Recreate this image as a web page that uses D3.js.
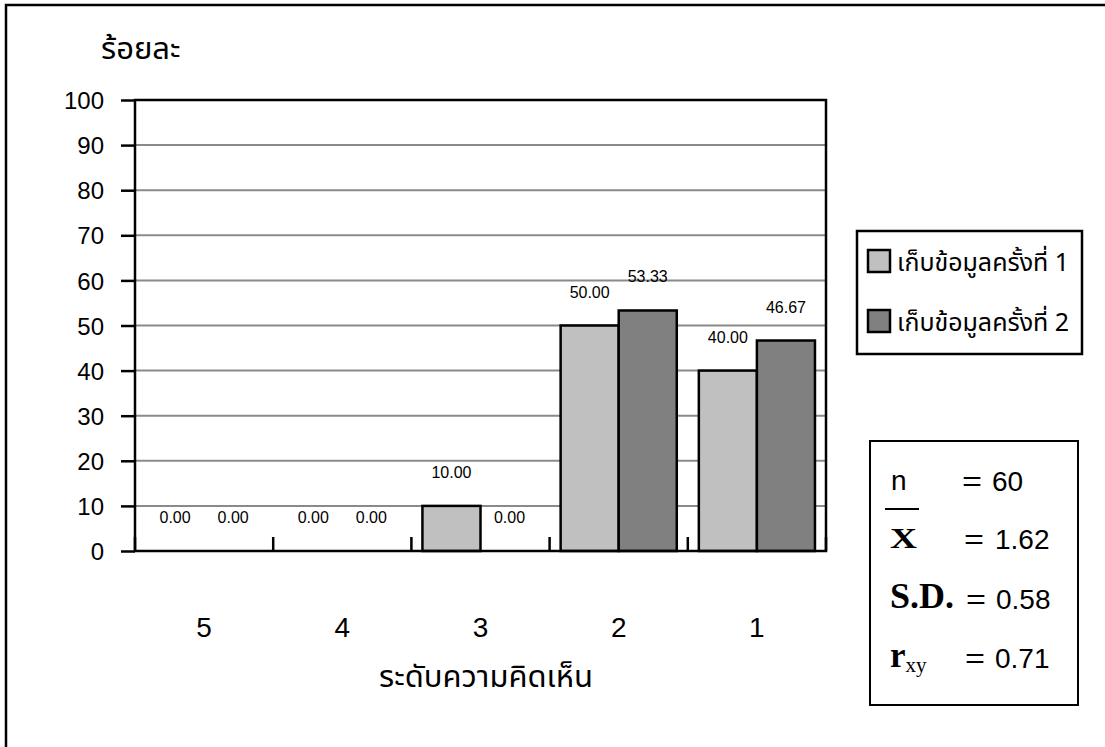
<!DOCTYPE html>
<html>
<head>
<meta charset="utf-8">
<script src="https://cdn.jsdelivr.net/npm/d3@7"></script>
<style>
  html, body { margin: 0; padding: 0; background: #fff; }
  svg { display: block; }
  .thai { font-family: "Noto Sans Thai", "Noto Sans Thai Looped", "Loma", "Garuda", "Tlwg Typo", "Sarabun", "Norasi", "Tahoma", sans-serif; }
  .num { font-family: "Liberation Sans", Arial, sans-serif; }
  .serif { font-family: "Liberation Serif", "Times New Roman", serif; }
</style>
</head>
<body>
<svg id="chart" width="1105" height="747"></svg>
<script>
// Opinion levels (x categories) and the two data-collection rounds
const categories = ["5", "4", "3", "2", "1"];
const seriesNames = ["เก็บข้อมูลครั้งที่ 1", "เก็บข้อมูลครั้งที่ 2"];
const round1 = [0.00, 0.00, 10.00, 50.00, 40.00];
const round2 = [0.00, 0.00, 0.00, 53.33, 46.67];
const yTicks = [0, 10, 20, 30, 40, 50, 60, 70, 80, 90, 100];
const statLabels = ["n", "X", "S.D.", "r"];
const statValues = ["60", "1.62", "0.58", "0.71"];

const colors = ["#c0c0c0", "#808080"];

const svg = d3.select("#chart");

// outer frame
svg.append("rect")
  .attr("x", 6).attr("y", 5)
  .attr("width", 1120).attr("height", 760)
  .attr("fill", "none").attr("stroke", "#000").attr("stroke-width", 2.5);

const plot = { left: 135, right: 826, top: 100, bottom: 551 };

const y = d3.scaleLinear().domain([0, 100]).range([plot.bottom, plot.top]);
const x0 = d3.scaleBand().domain(categories).range([plot.left, plot.right]).padding(0);
const x1 = d3.scaleBand().domain([0, 1]).range([0, x0.bandwidth()])
  .paddingInner(0).paddingOuter(0.19);

// gridlines
svg.append("g")
  .selectAll("line")
  .data(yTicks.filter(v => v > 0 && v < 100))
  .join("line")
  .attr("x1", plot.left).attr("x2", plot.right)
  .attr("y1", d => y(d)).attr("y2", d => y(d))
  .attr("stroke", "#8a8a8a").attr("stroke-width", 2);

// bars
const rows = categories.map((c, i) => ({ cat: c, vals: [round1[i], round2[i]] }));
const groups = svg.append("g").selectAll("g")
  .data(rows)
  .join("g")
  .attr("transform", d => `translate(${x0(d.cat)},0)`);

groups.selectAll("rect")
  .data(d => d.vals.map((v, k) => ({ v, k })))
  .join("rect")
  .attr("x", d => x1(d.k))
  .attr("width", x1.bandwidth())
  .attr("y", d => y(d.v))
  .attr("height", d => y(0) - y(d.v))
  .attr("fill", d => colors[d.k])
  .attr("stroke", d => d.v > 0 ? "#000" : "none")
  .attr("stroke-width", 2.5);

// value labels
groups.selectAll("text")
  .data(d => d.vals.map((v, k) => ({ v, k })))
  .join("text")
  .attr("class", "num")
  .attr("x", d => x1(d.k) + x1.bandwidth() / 2)
  .attr("y", d => y(d.v) - 28)
  .attr("text-anchor", "middle")
  .attr("font-size", 16)
  .attr("fill", "#000")
  .text(d => d.v.toFixed(2));

// plot frame (top & right), axes
svg.append("rect")
  .attr("x", plot.left).attr("y", plot.top)
  .attr("width", plot.right - plot.left).attr("height", plot.bottom - plot.top)
  .attr("fill", "none").attr("stroke", "#000").attr("stroke-width", 2.5);

const yAxis = svg.append("g")
  .attr("transform", `translate(${plot.left},0)`)
  .call(d3.axisLeft(y).tickValues(yTicks).tickSize(14).tickPadding(17).tickFormat(d3.format("d")));
yAxis.select(".domain").remove();
yAxis.selectAll(".tick line").attr("stroke", "#000").attr("stroke-width", 2.5);
yAxis.selectAll(".tick text")
  .attr("class", "num").attr("font-size", 24).attr("fill", "#000").attr("dy", "0.36em");

// category separators (ticks pointing up into the plot)
const bounds = categories.map(c => x0(c)).concat([plot.right]);
svg.append("g").selectAll("line")
  .data(bounds)
  .join("line")
  .attr("x1", d => d).attr("x2", d => d)
  .attr("y1", plot.bottom).attr("y2", plot.bottom - 14)
  .attr("stroke", "#000").attr("stroke-width", 2.5);

// x category labels
const xAxis = svg.append("g")
  .attr("transform", `translate(0,${plot.bottom})`)
  .call(d3.axisBottom(x0).tickSize(0).tickPadding(0));
xAxis.select(".domain").remove();
xAxis.selectAll(".tick text")
  .attr("class", "num").attr("font-size", 28).attr("fill", "#000")
  .attr("y", 86).attr("dy", 0);

// axis titles
svg.append("text").attr("class", "thai")
  .attr("x", 101).attr("y", 59)
  .attr("font-size", 31).attr("fill", "#000")
  .text("ร้อยละ");

svg.append("text").attr("class", "thai")
  .attr("x", 486).attr("y", 687)
  .attr("text-anchor", "middle")
  .attr("font-size", 31).attr("fill", "#000")
  .text("ระดับความคิดเห็น");

// legend
const legend = svg.append("g");
legend.append("rect")
  .attr("x", 857).attr("y", 231).attr("width", 225).attr("height", 123)
  .attr("fill", "#fff").attr("stroke", "#000").attr("stroke-width", 2.5);
const legItems = legend.selectAll("g.item")
  .data(seriesNames)
  .join("g").attr("class", "item")
  .attr("transform", (d, i) => `translate(0,${261 + i * 60})`);
legItems.append("rect")
  .attr("x", 868).attr("y", -11).attr("width", 22).attr("height", 22)
  .attr("fill", (d, i) => colors[i]).attr("stroke", "#000").attr("stroke-width", 2.5);
legItems.append("text").attr("class", "thai")
  .attr("x", 897).attr("y", 10)
  .attr("font-size", 25).attr("fill", "#000")
  .text(d => d);

// statistics box
const stats = svg.append("g");
stats.append("rect")
  .attr("x", 870).attr("y", 441).attr("width", 208).attr("height", 264)
  .attr("fill", "#fff").attr("stroke", "#000").attr("stroke-width", 2);

const statBase = [490, 548, 608, 667];

stats.append("text").attr("class", "num")
  .attr("x", 891).attr("y", statBase[0]).attr("font-size", 28).attr("fill", "#000")
  .text(statLabels[0]);

stats.append("line")
  .attr("x1", 885).attr("x2", 919).attr("y1", 509).attr("y2", 509)
  .attr("stroke", "#000").attr("stroke-width", 2);
stats.append("text").attr("class", "serif")
  .attr("x", 890).attr("y", statBase[1]).attr("font-size", 29).attr("font-weight", "bold").attr("fill", "#000")
  .attr("textLength", 27).attr("lengthAdjust", "spacingAndGlyphs")
  .text(statLabels[1]);

stats.append("text").attr("class", "serif")
  .attr("x", 890).attr("y", statBase[2]).attr("font-size", 36).attr("font-weight", "bold").attr("fill", "#000")
  .text(statLabels[2]);

const rText = stats.append("text").attr("class", "serif")
  .attr("x", 890).attr("y", statBase[3]).attr("fill", "#000");
rText.append("tspan").attr("font-size", 35).attr("font-weight", "bold").text(statLabels[3]);
rText.append("tspan").attr("font-size", 21).attr("dy", 5).text("xy");

const eqX = [962, 964, 966, 965];
const valX = [992, 995, 996, 995];
statValues.forEach((v, i) => {
  stats.append("text").attr("class", "num")
    .attr("x", eqX[i]).attr("y", statBase[i] + 1)
    .attr("font-size", 28).attr("fill", "#000")
    .attr("textLength", 20).attr("lengthAdjust", "spacingAndGlyphs")
    .text("=");
  stats.append("text").attr("class", "num")
    .attr("x", valX[i]).attr("y", statBase[i] + 1)
    .attr("font-size", 28).attr("fill", "#000")
    .text(v);
});
</script>
</body>
</html>
